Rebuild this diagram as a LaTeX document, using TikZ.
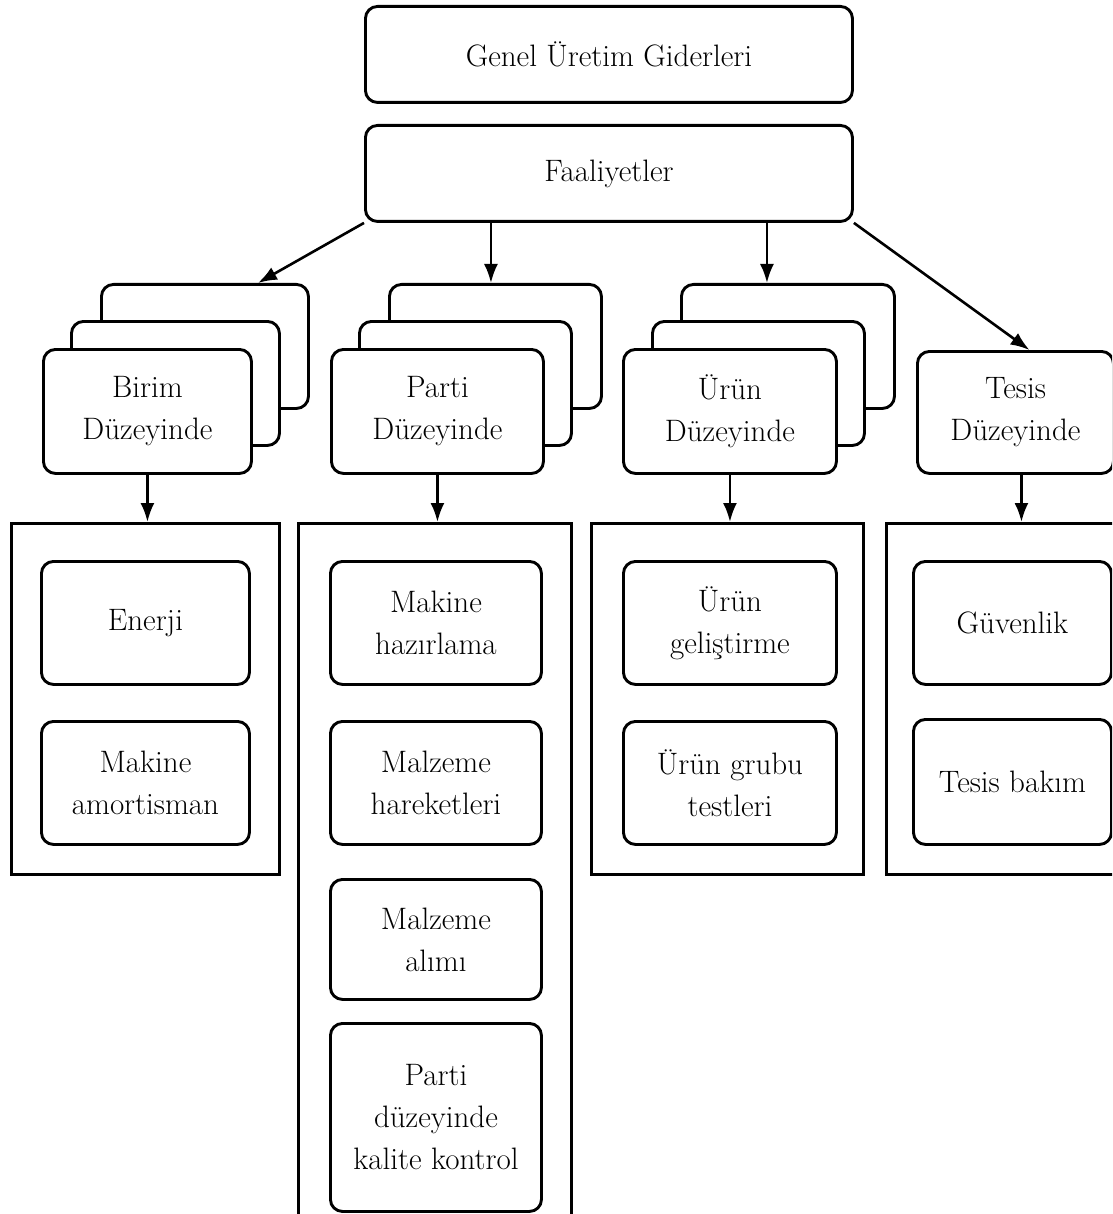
\documentclass[tikz,border=0pt]{standalone}
\usepackage{fontspec}
\setmainfont{Latin Modern Roman}
\usetikzlibrary{arrows.meta,calc}
\newcommand{\boxfont}{\fontsize{31}{42}\selectfont}
\tikzset{
  card/.style={draw, line width=2.9pt, rounded corners=12pt, fill=white,
    anchor=north west, inner sep=0pt, align=center, font=\boxfont},
  frame/.style={draw, line width=2.7pt, anchor=north west, inner sep=0pt},
  sz/.style 2 args={minimum width=#1, minimum height=#2},
  arr/.style={line width=2.6pt, -{Latex[length=19pt,width=14pt]}}
}
\begin{document}
\begin{tikzpicture}[x=1pt,y=-1pt]
\useasboundingbox[fill=white] (0,0) rectangle (1112,1214);
\clip (0,0) rectangle (1112,1214);

% top level
\node[card, sz={487}{96}] (genel) at (364,5) {Genel Üretim Giderleri};
\node[card, sz={487}{96}] (faal) at (364,124) {Faaliyetler};

% stacked level cards
\node[card, sz={207}{124}] (birimB) at (100,283) {};
\node[card, sz={208}{124}] (birimM) at (70,320) {};
\node[card, sz={208}{124}] (birim) at (42,348) {Birim\\Düzeyinde};

\node[card, sz={212}{124}] (partiB) at (388,283) {};
\node[card, sz={212}{124}] (partiM) at (358,320) {};
\node[card, sz={212}{124}] (parti) at (330,348) {Parti\\Düzeyinde};

\node[card, sz={213}{124}] (urunB) at (680,283) {};
\node[card, sz={212}{124}] (urunM) at (651,320) {};
\node[card, sz={213}{124}] (urun) at (622,348) {Ürün\\Düzeyinde};

\node[card, sz={196}{122}] (tesis) at (916,350) {Tesis\\Düzeyinde};

% activity frames
\node[frame, sz={268}{351}] (birimF) at (10,522) {};
\node[frame, sz={273}{740}] (partiF) at (297,522) {};
\node[frame, sz={272}{351}] (urunF) at (590,522) {};
\node[frame, sz={270}{351}] (tesisF) at (885,522) {};

% activities
\node[card, sz={208}{123}] (enerji) at (40,560) {Enerji};
\node[card, sz={208}{123}] (amort) at (40,720) {Makine\\amortisman};

\node[card, sz={211}{123}] (hazir) at (329,560) {Makine\\hazırlama};
\node[card, sz={211}{123}] (hareket) at (329,720) {Malzeme\\hareketleri};
\node[card, sz={211}{120}] (alim) at (329,878) {Malzeme\\alımı};
\node[card, sz={211}{188}] (kalite) at (329,1022) {Parti\\düzeyinde\\kalite kontrol};

\node[card, sz={213}{123}] (gelis) at (622,560) {Ürün\\geliştirme};
\node[card, sz={213}{123}] (testler) at (622,720) {Ürün grubu\\testleri};

\node[card, sz={198}{123}] (guven) at (912,560) {Güvenlik};
\node[card, sz={198}{125}] (bakim) at (912,718) {Tesis bakım};

% connectors
\draw[arr] (faal.south west) -- ($(birimB.north west)+(158,0)$);
\draw[arr] ($(faal.south)+(-118,0)$) coordinate (a2) -- (a2 |- partiB.north);
\draw[arr] ($(faal.south)+(158,0)$) coordinate (a3) -- (a3 |- urunB.north);
\draw[arr] (faal.south east) -- ($(tesis.north)+(14,0)$);

\draw[arr] (birim.south) -- (birim.south |- birimF.north);
\draw[arr] (parti.south) -- (parti.south |- partiF.north);
\draw[arr] (urun.south) -- (urun.south |- urunF.north);
\draw[arr] ($(tesis.south)+(6,0)$) coordinate (a8) -- (a8 |- tesisF.north);
\end{tikzpicture}
\end{document}
